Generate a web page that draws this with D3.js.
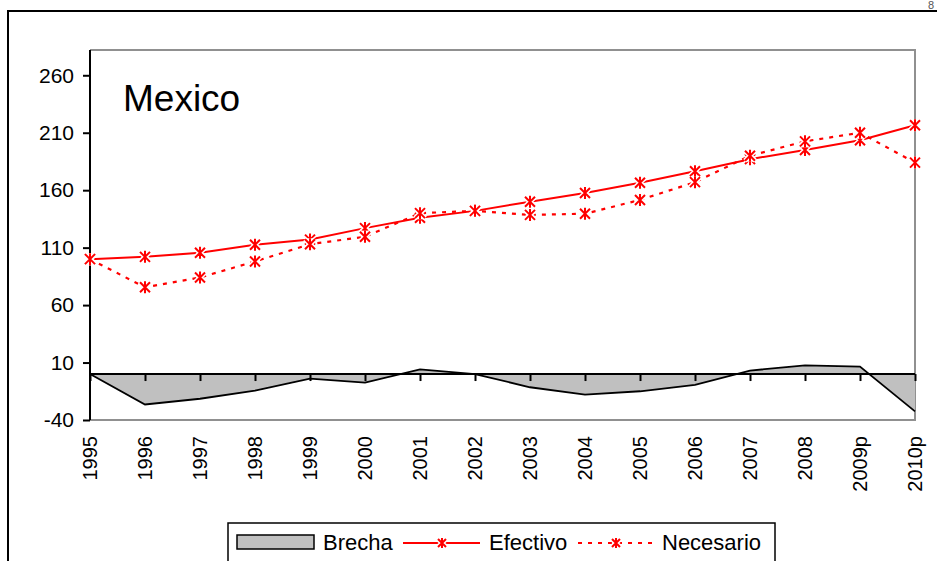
<!DOCTYPE html>
<html>
<head>
<meta charset="utf-8">
<script src="https://cdn.jsdelivr.net/npm/d3@7"></script>
<style>
  html, body { margin: 0; padding: 0; background: #fff; }
  svg { display: block; font-family: "Liberation Sans", Arial, sans-serif; }
</style>
</head>
<body>
<svg id="chart" width="937" height="561"></svg>
<script>
// Years on the category axis
const years = ["1995","1996","1997","1998","1999","2000","2001","2002",
               "2003","2004","2005","2006","2007","2008","2009p","2010p"];
// Actual money supply index
const efectivo = [100, 102, 105.5, 112.5, 117, 127, 136, 142,
                  150, 157.5, 166.5, 176.5, 187, 195, 203.5, 216.5];
// Required money supply index
const necesario = [100, 75.5, 84, 98, 113, 119.5, 140, 142,
                   138.5, 139.5, 151.5, 167, 190, 202.5, 210, 184];
// Gap between required and actual
const brecha = [0, -26.5, -21.5, -14.5, -4, -7.5, 4, 0,
                -11.5, -18, -15, -9.5, 3, 7.5, 6.5, -32.5];
const yTicks = [-40, 10, 60, 110, 160, 210, 260];
const title = "Mexico";
const legendLabels = ["Brecha", "Efectivo", "Necesario"];

const svg = d3.select("#chart");
const plot = { left: 90, right: 915, top: 50, bottom: 420 };
const red = "#FF0000";

const x = d3.scalePoint().domain(years).range([plot.left, plot.right]);
const y = d3.scaleLinear().domain([-40, 282]).range([plot.bottom, plot.top]);

// Outer chart border (top and left edges visible)
svg.append("path")
  .attr("d", `M8,561 L8,11 L937,11`)
  .attr("fill", "none").attr("stroke", "#000").attr("stroke-width", 2);
svg.append("text").attr("x", 928).attr("y", 9)
  .attr("font-size", 11).attr("fill", "#555").text("8");

// Plot area frame (gray top, right, bottom)
svg.append("path")
  .attr("d", `M${plot.left},${plot.top} L${plot.right},${plot.top} L${plot.right},${plot.bottom} L${plot.left},${plot.bottom}`)
  .attr("fill", "none").attr("stroke", "#909090").attr("stroke-width", 2);

// Gap area
const area = d3.area()
  .x((d, i) => x(years[i]))
  .y0(y(0))
  .y1(d => y(d));
svg.append("path").datum(brecha)
  .attr("d", area)
  .attr("fill", "#C0C0C0");
svg.append("path").datum(brecha)
  .attr("d", d3.line().x((d, i) => x(years[i])).y(d => y(d)))
  .attr("fill", "none").attr("stroke", "#000").attr("stroke-width", 1.8);

// Category axis along zero
const xAxis = svg.append("g")
  .attr("transform", `translate(0,${y(0)})`)
  .call(d3.axisBottom(x).tickSize(7).tickFormat(""));
xAxis.select(".domain").attr("stroke", "#000").attr("stroke-width", 2)
  .attr("d", `M${plot.left},0H${plot.right}`);
xAxis.selectAll(".tick line").attr("stroke", "#000").attr("stroke-width", 2);

// Rotated year labels below the plot
svg.append("g").selectAll("text").data(years).join("text")
  .attr("transform", d => `translate(${x(d) + 7},${plot.bottom + 16}) rotate(-90)`)
  .attr("text-anchor", "end")
  .attr("font-size", 20)
  .attr("fill", "#000")
  .text(d => d);

// Value axis
const yAxis = svg.append("g")
  .attr("transform", `translate(${plot.left},0)`)
  .call(d3.axisLeft(y).tickValues(yTicks).tickSize(7).tickPadding(9).tickFormat(d => String(d)));
yAxis.select(".domain").attr("stroke", "#000").attr("stroke-width", 2)
  .attr("d", `M0,${plot.top}V${plot.bottom}`);
yAxis.selectAll(".tick line").attr("stroke", "#000").attr("stroke-width", 2);
yAxis.selectAll(".tick text").attr("font-size", 21).attr("fill", "#000")
  .attr("font-family", "Liberation Sans, Arial, sans-serif");

// Asterisk marker with a white halo
function asterisk(g, cx, cy, r) {
  const d = `M${cx - r},${cy - r}L${cx + r},${cy + r}M${cx - r},${cy + r}L${cx + r},${cy - r}M${cx},${cy - r - 1}L${cx},${cy + r + 1}`;
  g.append("path").attr("d", d).attr("stroke", "#fff").attr("stroke-width", 5).attr("fill", "none");
  g.append("path").attr("d", d).attr("stroke", red).attr("stroke-width", 2).attr("fill", "none");
}

const line = d3.line().x((d, i) => x(years[i])).y(d => y(d));

// Actual series
const gEf = svg.append("g");
gEf.append("path").datum(efectivo).attr("d", line)
  .attr("fill", "none").attr("stroke", red).attr("stroke-width", 2);
efectivo.forEach((v, i) => asterisk(gEf, x(years[i]), y(v), 5));

// Required series
const gNe = svg.append("g");
gNe.append("path").datum(necesario).attr("d", line)
  .attr("fill", "none").attr("stroke", red).attr("stroke-width", 2.2)
  .attr("stroke-dasharray", "4,6");
necesario.forEach((v, i) => asterisk(gNe, x(years[i]), y(v), 5));

// Title
svg.append("text").attr("x", 123).attr("y", 111)
  .attr("font-size", 37).attr("fill", "#000").text(title);

// Legend
const lg = svg.append("g");
lg.append("rect").attr("x", 228).attr("y", 523).attr("width", 547).attr("height", 50)
  .attr("fill", "#fff").attr("stroke", "#000").attr("stroke-width", 1.5);
lg.append("rect").attr("x", 237).attr("y", 535).attr("width", 77).attr("height", 14)
  .attr("fill", "#C0C0C0").attr("stroke", "#000").attr("stroke-width", 1.5);
lg.append("text").attr("x", 323).attr("y", 550).attr("font-size", 22).text(legendLabels[0]);
lg.append("line").attr("x1", 403).attr("x2", 480).attr("y1", 543).attr("y2", 543)
  .attr("stroke", red).attr("stroke-width", 2);
asterisk(lg, 442, 543, 4);
lg.append("text").attr("x", 489).attr("y", 550).attr("font-size", 22).text(legendLabels[1]);
lg.append("line").attr("x1", 578).attr("x2", 654).attr("y1", 543).attr("y2", 543)
  .attr("stroke", red).attr("stroke-width", 2).attr("stroke-dasharray", "4,6");
asterisk(lg, 616, 543, 4);
lg.append("text").attr("x", 662).attr("y", 550).attr("font-size", 22).text(legendLabels[2]);
</script>
</body>
</html>
